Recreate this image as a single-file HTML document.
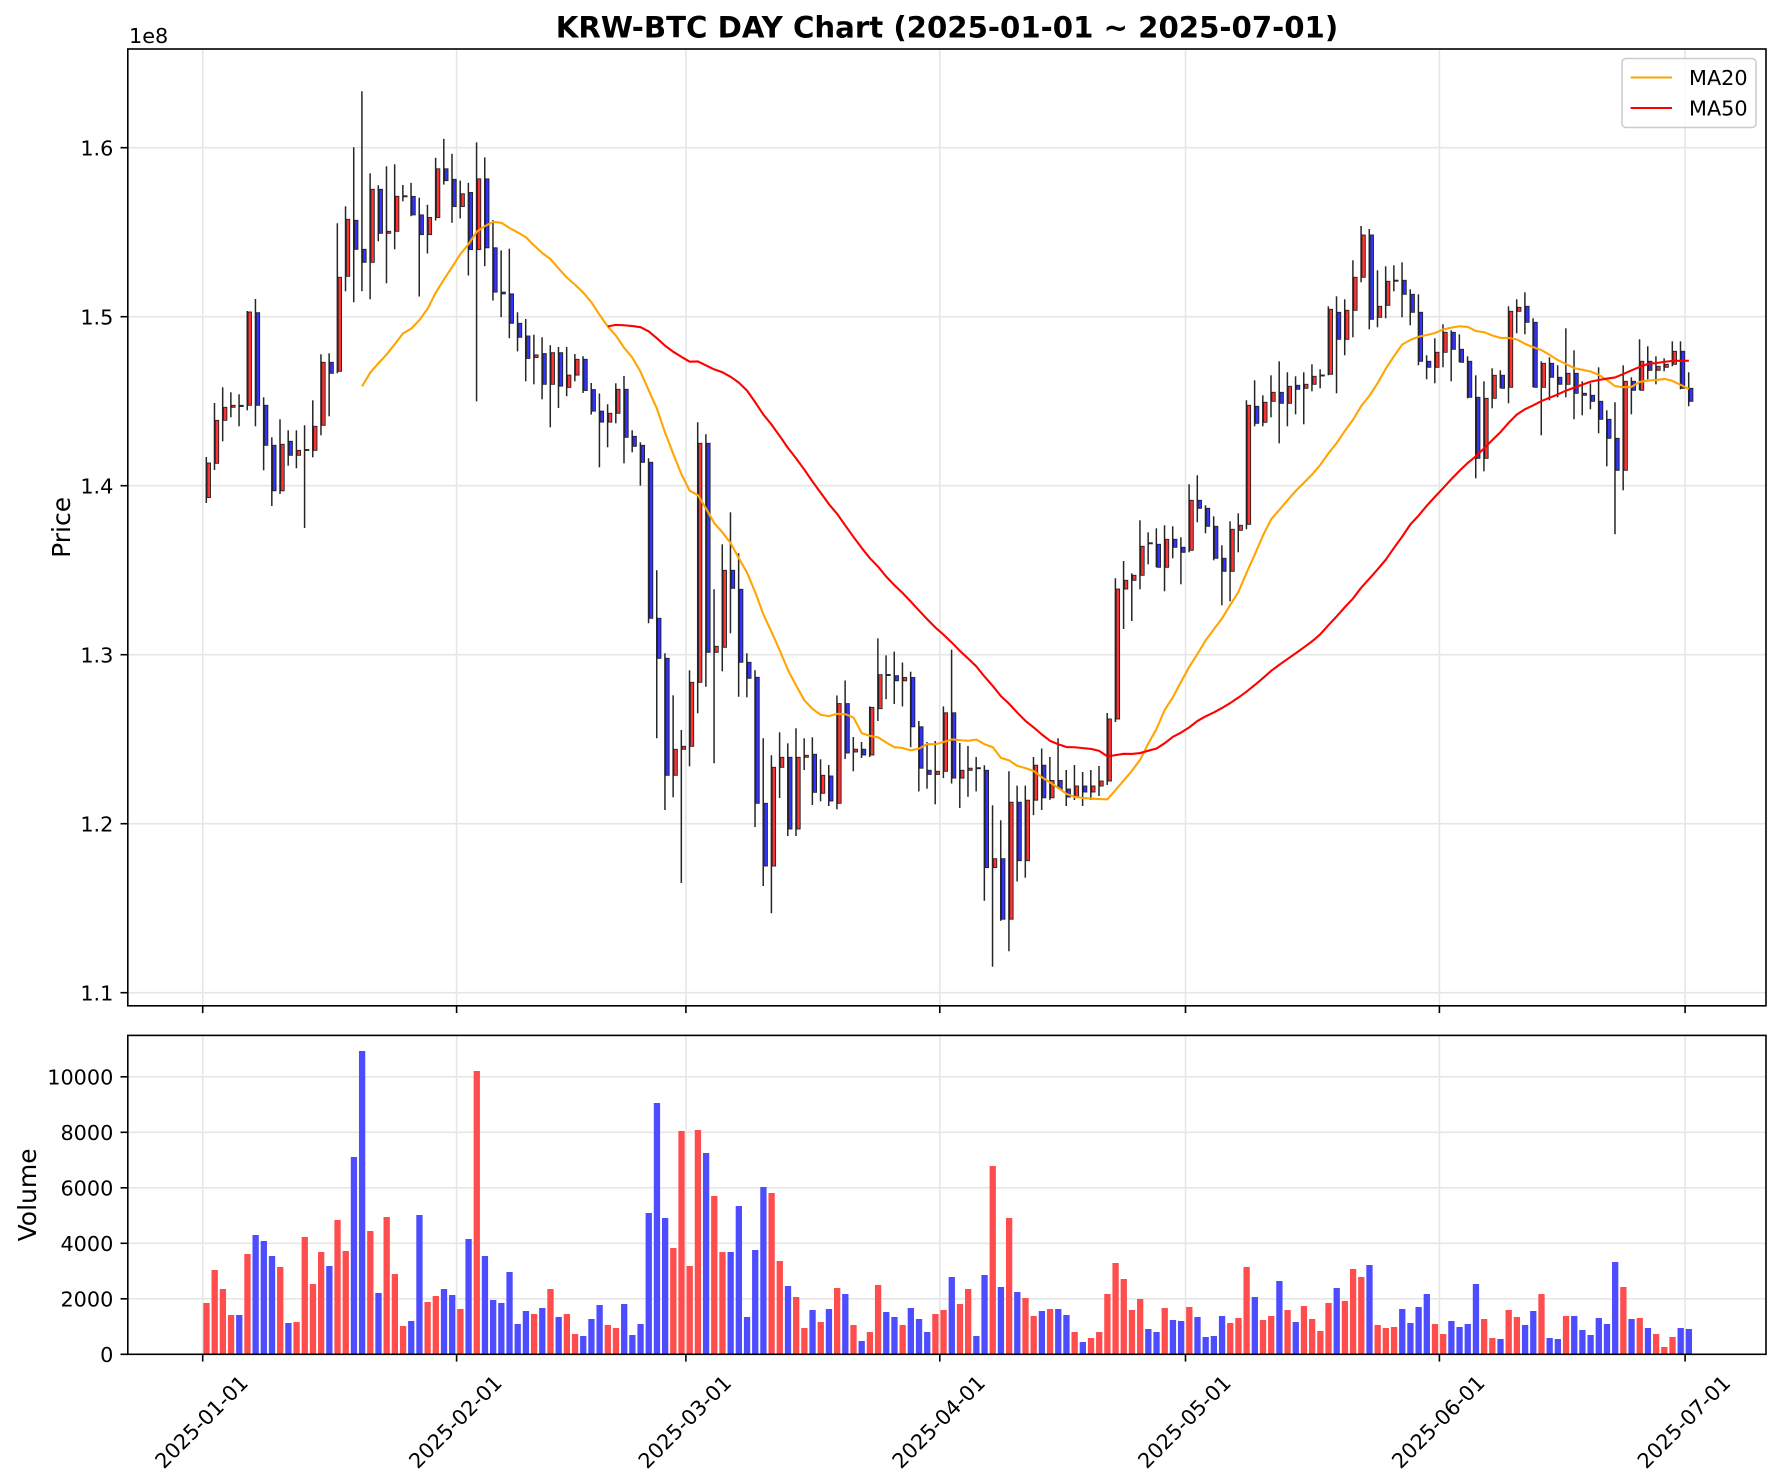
<!DOCTYPE html>
<html><head><meta charset="utf-8"><style>
html,body{margin:0;padding:0;background:#fff;}
svg{display:block;font-family:"DejaVu Sans","Liberation Sans",sans-serif;}
</style></head><body>
<svg id="c" width="1782" height="1484" viewBox="0 0 1782 1484" xmlns="http://www.w3.org/2000/svg">
<rect x="0" y="0" width="1782" height="1484" fill="#fff"/>
<!-- grid top -->
<g stroke="#e6e6e6" stroke-width="1.6">
<line x1="127.8" x2="1766" y1="147.7" y2="147.7"/><line x1="127.8" x2="1766" y1="316.7" y2="316.7"/>
<line x1="127.8" x2="1766" y1="485.7" y2="485.7"/><line x1="127.8" x2="1766" y1="654.7" y2="654.7"/>
<line x1="127.8" x2="1766" y1="823.7" y2="823.7"/><line x1="127.8" x2="1766" y1="992.7" y2="992.7"/>
<line y1="49" y2="1005.8" x1="202.7" x2="202.7"/><line y1="49" y2="1005.8" x1="456.6" x2="456.6"/>
<line y1="49" y2="1005.8" x1="685.9" x2="685.9"/><line y1="49" y2="1005.8" x1="939.8" x2="939.8"/>
<line y1="49" y2="1005.8" x1="1185.5" x2="1185.5"/><line y1="49" y2="1005.8" x1="1439.4" x2="1439.4"/>
<line y1="49" y2="1005.8" x1="1685.1" x2="1685.1"/>
<!-- grid bottom -->
<line x1="127.8" x2="1766" y1="1298.8" y2="1298.8"/><line x1="127.8" x2="1766" y1="1243.3" y2="1243.3"/>
<line x1="127.8" x2="1766" y1="1187.8" y2="1187.8"/><line x1="127.8" x2="1766" y1="1132.3" y2="1132.3"/>
<line x1="127.8" x2="1766" y1="1076.8" y2="1076.8"/>
<line y1="1035.4" y2="1354.3" x1="202.7" x2="202.7"/><line y1="1035.4" y2="1354.3" x1="456.6" x2="456.6"/>
<line y1="1035.4" y2="1354.3" x1="685.9" x2="685.9"/><line y1="1035.4" y2="1354.3" x1="939.8" x2="939.8"/>
<line y1="1035.4" y2="1354.3" x1="1185.5" x2="1185.5"/><line y1="1035.4" y2="1354.3" x1="1439.4" x2="1439.4"/>
<line y1="1035.4" y2="1354.3" x1="1685.1" x2="1685.1"/>
</g>
<g id="dyn"></g>
<!-- legend -->
<rect x="1622" y="58.5" width="134" height="69" rx="4" ry="4" fill="#fff" fill-opacity="0.8" stroke="#cccccc" stroke-width="1.5"/>
<line x1="1630.6" x2="1672" y1="77.5" y2="77.5" stroke="#ffa500" stroke-width="2.1"/>
<line x1="1630.6" x2="1672" y1="108" y2="108" stroke="#ff0000" stroke-width="2.1"/>
<text x="1689" y="85" font-size="20.8" fill="#000">MA20</text>
<text x="1689" y="115.6" font-size="20.8" fill="#000">MA50</text>
<!-- spines -->
<rect x="127.8" y="49" width="1638.2" height="956.8" fill="none" stroke="#000" stroke-width="1.6"/>
<rect x="127.8" y="1035.4" width="1638.2" height="318.9" fill="none" stroke="#000" stroke-width="1.6"/>
<!-- ticks -->
<g stroke="#000" stroke-width="1.6">
<line x1="120.5" x2="127.8" y1="147.7" y2="147.7"/><line x1="120.5" x2="127.8" y1="316.7" y2="316.7"/>
<line x1="120.5" x2="127.8" y1="485.7" y2="485.7"/><line x1="120.5" x2="127.8" y1="654.7" y2="654.7"/>
<line x1="120.5" x2="127.8" y1="823.7" y2="823.7"/><line x1="120.5" x2="127.8" y1="992.7" y2="992.7"/>
<line x1="120.5" x2="127.8" y1="1354.3" y2="1354.3"/><line x1="120.5" x2="127.8" y1="1298.8" y2="1298.8"/>
<line x1="120.5" x2="127.8" y1="1243.3" y2="1243.3"/><line x1="120.5" x2="127.8" y1="1187.8" y2="1187.8"/>
<line x1="120.5" x2="127.8" y1="1132.3" y2="1132.3"/><line x1="120.5" x2="127.8" y1="1076.8" y2="1076.8"/>
<line y1="1005.8" y2="1013.1" x1="202.7" x2="202.7"/><line y1="1005.8" y2="1013.1" x1="456.6" x2="456.6"/>
<line y1="1005.8" y2="1013.1" x1="685.9" x2="685.9"/><line y1="1005.8" y2="1013.1" x1="939.8" x2="939.8"/>
<line y1="1005.8" y2="1013.1" x1="1185.5" x2="1185.5"/><line y1="1005.8" y2="1013.1" x1="1439.4" x2="1439.4"/>
<line y1="1005.8" y2="1013.1" x1="1685.1" x2="1685.1"/>
<line y1="1354.3" y2="1361.6" x1="202.7" x2="202.7"/><line y1="1354.3" y2="1361.6" x1="456.6" x2="456.6"/>
<line y1="1354.3" y2="1361.6" x1="685.9" x2="685.9"/><line y1="1354.3" y2="1361.6" x1="939.8" x2="939.8"/>
<line y1="1354.3" y2="1361.6" x1="1185.5" x2="1185.5"/><line y1="1354.3" y2="1361.6" x1="1439.4" x2="1439.4"/>
<line y1="1354.3" y2="1361.6" x1="1685.1" x2="1685.1"/>
</g>
<!-- texts -->
<text x="947" y="37.5" font-size="29.2" font-weight="bold" text-anchor="middle" fill="#000">KRW-BTC DAY Chart (2025-01-01 ~ 2025-07-01)</text>
<text x="129" y="43" font-size="20.8" fill="#000">1e8</text>
<g font-size="20.8" text-anchor="end" fill="#000">
<text x="113.4" y="155.3">1.6</text><text x="113.4" y="324.3">1.5</text>
<text x="113.4" y="493.3">1.4</text><text x="113.4" y="662.3">1.3</text>
<text x="113.4" y="831.3">1.2</text><text x="113.4" y="1000.3">1.1</text>
<text x="113.4" y="1361.9">0</text><text x="113.4" y="1306.4">2000</text>
<text x="113.4" y="1250.9">4000</text><text x="113.4" y="1195.4">6000</text>
<text x="113.4" y="1139.9">8000</text><text x="113.4" y="1084.4">10000</text>
</g>
<text x="70" y="527.4" font-size="25" text-anchor="middle" fill="#000" transform="rotate(-90 70 527.4)">Price</text>
<text x="36" y="1194.9" font-size="25" text-anchor="middle" fill="#000" transform="rotate(-90 36 1194.9)">Volume</text>
<g font-size="20.8" text-anchor="middle" dominant-baseline="central" fill="#000">
<text x="201.7" y="1422" transform="rotate(-45 201.7 1422)">2025-01-01</text>
<text x="455.6" y="1422" transform="rotate(-45 455.6 1422)">2025-02-01</text>
<text x="684.9" y="1422" transform="rotate(-45 684.9 1422)">2025-03-01</text>
<text x="938.8" y="1422" transform="rotate(-45 938.8 1422)">2025-04-01</text>
<text x="1184.5" y="1422" transform="rotate(-45 1184.5 1422)">2025-05-01</text>
<text x="1438.4" y="1422" transform="rotate(-45 1438.4 1422)">2025-06-01</text>
<text x="1684.1" y="1422" transform="rotate(-45 1684.1 1422)">2025-07-01</text>
</g>
</svg>
<script>
(function(){
var col="RRRRBRBBBR"+"BRRRRBRRBB"+"RBRRRBBRRB"+"BRBRBBBBBB"+"RBRBRRBBBR"+"RBBBBBBRRR"+"RBRRBBBBBR"+"RBRRBRBRBR"+"BRRBBRBBBR"+"RBRRBBRBRB"+"RRBRBBRBRR"+"RRRRRBBRBB"+"RBBBBRRRBR"+"RBRBRRRRBR"+"RRBRRRBBBB"+"RRBBBBRRBR"+"RBBRBBRBBB"+"BBBRBRBRRR"+"BB";
var C=[
[457,503,463,497.5],[403,470,420.3,463.3],[387.3,441.3,407.3,420.3],[392.3,417.3,405.3,407.3],[394.3,426.3,405.3,406.5],
[311,410.3,312,405.3],[299,426.3,312.7,405.3],[397.3,470.3,405.3,445.3],[437.3,506,445.3,490.8],[419.3,494,444.3,490.8],
[430.3,465.7,441.3,455.3],[430.3,468.3,450.3,455.3],[425.3,528,449.5,450.5],[400.3,457.3,426.3,450.3],[354.3,435.3,362.3,425.3],
[353.3,416.3,362.3,373.3],[223.3,373.3,277.3,371.3],[206.3,291.3,219.3,276.3],[147.3,302.3,220.3,249.3],[91.3,291.3,249.3,262.3],
[173.3,299.3,189.3,262.3],[185.3,241.3,189.3,233.3],[166.3,283.3,231.3,233.3],[164.3,249.3,196.3,231.3],[185,201.3,195.8,196.8],
[182.8,216.2,196.4,214.9],[197.7,296.5,214.9,234.6],[204.8,253.5,217.5,234.6],[157.8,220.6,168.8,217.5],[138.9,184.6,168.8,180.6],
[153.8,222.8,179.3,206.5],[180.6,218.4,193.8,206.5],[182.8,275.5,192.5,249.5],[142.4,401.4,178.9,249.5],[157.4,266.2,178.9,247.8],
[220.1,300.5,247.8,292.1],[250.4,317.2,292.1,293.9],[248.7,338.2,293.9,323.3],[312.3,351.4,323.3,337.3],[319,381.3,336,358.4],
[334.7,384.3,354.9,357.5],[337.3,399.3,353.6,384.3],[345.2,427.3,352.7,384.3],[347,408,352.7,386.1],[347,396.2,375.1,387.4],
[354,381.3,359.3,375.1],[356.2,393,359.3,390.5],[383,414.6,389.6,411.1],[393.5,467.3,411.1,422.1],[404.3,447.3,413.3,422.1],
[383.3,423.3,389.3,413.3],[376,463.3,389.3,437.3],[430.3,452.3,436.3,446.3],[442.3,485.7,445.3,462.3],[458.3,623.3,462.3,618.3],
[570.3,738.3,618.3,658.3],[653.3,810,658.3,775.3],[695.3,797.3,749.3,775.3],[730,883,746.3,749.3],[670.3,766.3,682.3,746.3],
[422.3,713.3,443.3,682.3],[434.3,686.7,443.3,652.3],[589.3,763.3,646.3,652.3],[544.3,671.3,570.3,647.3],[512.3,633.3,570.3,588.3],
[553.3,696.7,589.3,662.3],[653.3,697.3,662.3,678.3],[670.3,827,677.3,803.3],[738.3,886,803.3,866],[755.3,913.3,767.3,866],
[732.3,798,757.3,767.3],[743.3,836,757.3,829],[728.3,836,757.3,829],[738.3,770,755.3,757.3],[737.3,805,754.3,792.3],
[759.3,801.3,775.3,793.3],[765,806,776,801],[695.5,809.4,703.6,803.3],[680.5,759,703.6,753],[737,771.3,749.2,752],
[742,758,749.2,755],[706.4,757,707.4,755],[638.4,721,674.7,708.7],[655.4,699.2,674.5,675.5],[651.6,704,675.7,680.8],
[662.5,706.4,677.5,680.8],[671.7,747.2,677.5,726.8],[721,791.4,726.8,768.2],[742,788.7,770.3,774.4],[741,804.3,771.3,774.4],
[706.4,778.1,712.8,771.3],[649.6,783.5,712.8,778.1],[743,808,770.3,778.1],[746,796.8,768.2,770.3],[757,791.4,767.7,768.7],
[765.2,900.8,770.3,867.5],[805.3,966.8,858.7,867.5],[820.3,920.8,858.7,919.2],[771.3,951.2,802.2,919.2],[785.6,881.5,802.2,860.7],
[785.6,877.7,800.2,860.7],[757,815.2,765.2,800.2],[748.5,810,765.2,797.8],[757,799.9,780.5,797.8],[738.3,789,780.5,789],
[770,806,789,797],[765,800,786,797],[772,806,786,792],[770,800,786,792],[766,796,781,786],
[713,785,719,781],[578.3,722,589,719],[561,629,580.3,589],[573.3,621,575.3,580.3],[520.3,589.3,546.3,575.3],
[532.3,564.3,542.8,543.8],[528.3,567.3,544.3,567.3],[525.3,591.3,539.3,567.3],[526.3,558.3,539.3,547.3],[537.3,584.3,547.3,552.3],
[484.3,552.3,500.3,550.3],[475.3,522.3,500.3,508.3],[505.3,533.3,508.3,526.3],[516.3,560.3,526.3,558.3],[545.3,605.3,558.3,571.3],
[521.3,601.3,529.3,571.3],[513.3,552.3,525.3,530.3],[400.3,529.3,405.3,524.3],[380.3,426.3,406.3,423.3],[395.3,426.3,402.3,422.3],
[375.3,417.3,392.3,401.3],[361.3,443.3,392.3,403.3],[372.3,426.3,386.3,403.3],[376.3,414.3,385.3,389.3],[372.3,424.3,384.3,388.3],
[364.3,391.3,376.3,384.3],[369.3,388.3,375,376],[306.3,375.3,309.3,374.3],[296.3,393.3,312.3,339.3],[299.3,355.3,310.3,339.3],
[260.3,337.3,277.3,310.3],[226,282.3,235,277.3],[229,329.3,235,319.3],[270.3,327.3,306.3,317.3],[266.3,318.3,281.3,305.3],
[265.3,291.3,280.2,281.2],[262.3,317.3,280.3,294.3],[289.3,325.3,294.3,312.3],[294.3,365.3,312.3,361.3],[355.3,379.3,361.3,367.3],
[338.3,383.3,352.3,367.3],[324.3,367.3,332.3,352.3],[330.3,381.3,332.3,349.3],[334.3,362.3,349.3,362.3],[356.3,398.3,361.3,397.3],
[375.3,478.3,397.3,458.3],[381.3,471.3,398.3,458.3],[368.3,408.3,375.3,398.3],[370.3,388.3,375.3,388.3],[306.3,403.3,311.3,387.3],
[299.3,333.3,307.3,311.3],[292.3,334.3,306.3,322.3],[318.3,387.3,322.3,387.3],[361.3,435.3,363.3,387.3],[357.3,400.3,363.3,377.3],
[365.3,397.3,377.3,384.3],[328.3,397.3,373.3,384.3],[350.3,419.3,373.3,393.3],[381.3,415.3,393.3,395.3],[383.3,409.3,395.3,401.3],
[367.3,433.3,401.3,419.3],[410.3,466.3,419.3,438.3],[402.3,534.3,438.3,470.3],[365.3,490.3,381.3,470.3],[377.3,414.3,381.3,390.3],
[339.3,390.3,361.3,390.3],[346.3,379.3,361.3,370.3],[356.3,384.3,366.3,370.3],[358.3,371.3,364.3,367.3],[341.3,366.3,351.3,364.3],
[341.3,389.3,351.3,388.3],[372.3,406.3,388.3,401.3]];
var V=[789,690,747,825,825,642,585,603,648,681,849,846,591,732,636,678,540,633,351,33,573,759,531,702,858,843,525,786,768,747,765,807,597,93,648,780,789,696,852,813,822,804,747,831,822,882,888,837,795,855,864,792,885,852,519,189,534,624,273,678,
270,339,468,636,636,498,831,630,441,459,663,738,771,864,810,846,807,744,762,855,903,876,735,816,831,855,804,837,876,822,810,711,792,747,888,705,378,741,534,756,774,828,813,807,807,825,876,906,894,876,762,669,717,810,777,867,876,804,840,843,801,
831,891,888,828,849,834,681,771,840,828,723,810,846,798,837,873,789,744,783,687,711,675,855,864,861,807,849,801,762,852,882,843,861,852,732,837,894,897,810,831,855,813,762,894,897,828,828,870,885,834,852,666,741,837,834,864,882,921,891,864,867];
var n=C.length, s='', i, x;
for(i=0;i<V.length;i++){
  x=206.5+8.19*i; var top=1040+V[i]/3; var r=col.charAt(i)==='R';
  s+='<rect x="'+(x-3.15).toFixed(2)+'" y="'+top.toFixed(2)+'" width="6.3" height="'+(1354.3-top).toFixed(2)+'" fill="'+(r?'#ff4d4d':'#4d4dff')+'"/>';
}
var closes=[];
for(i=0;i<n;i++){
  x=206.5+8.19*i; var c=C[i]; var r=col.charAt(i)==='R';
  closes.push(r?c[2]:c[3]);
  s+='<line x1="'+(x-0.2).toFixed(2)+'" x2="'+(x-0.2).toFixed(2)+'" y1="'+c[0]+'" y2="'+c[1]+'" stroke="#262626" stroke-width="1.5"/>';
  var h=Math.max(c[3]-c[2],0.8);
  s+='<rect x="'+(x+0.6).toFixed(2)+'" y="'+c[2]+'" width="3.4" height="'+h.toFixed(2)+'" fill="'+(r?'#ff3333':'#3333ff')+'" stroke="#222" stroke-width="0.9"/>';
}
function ma(p,color){
  var pts=[];
  for(var k=p-1;k<n;k++){var sum=0;for(var j=k-p+1;j<=k;j++)sum+=closes[j];pts.push((206.5+8.19*k).toFixed(2)+','+(sum/p).toFixed(2));}
  return '<polyline points="'+pts.join(' ')+'" fill="none" stroke="'+color+'" stroke-width="2.1" stroke-linejoin="round"/>';
}
s+=ma(20,'#ffa500');
s+=ma(50,'#ff0000');
document.getElementById('dyn').innerHTML=s;
})();
</script>
</body></html>
